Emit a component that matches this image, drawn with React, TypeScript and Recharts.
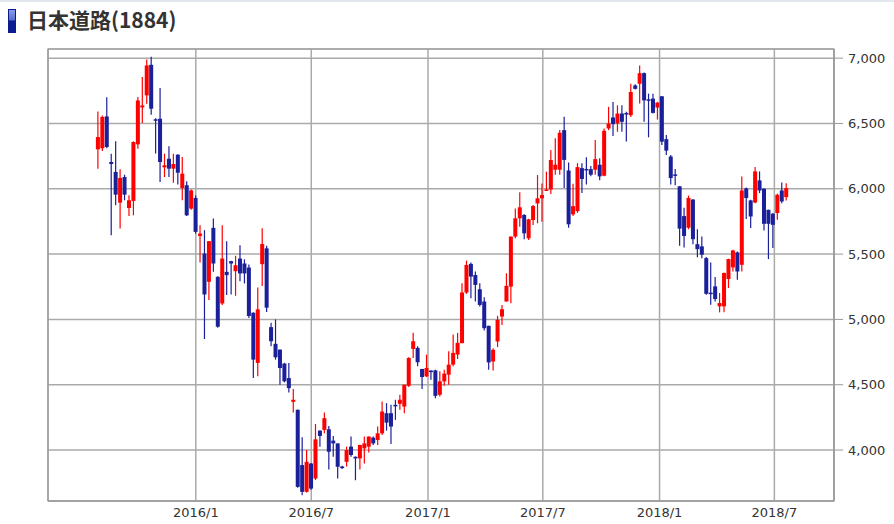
import React from 'react';
import { ComposedChart, Bar, XAxis, YAxis, CartesianGrid, ReferenceArea } from 'recharts';

// weekly bars, first week ending 2015/7/31
const firstWeek = '2015-07-31';

const openPrices = [
  6302, 6310, 6554, 6205, 6129, 5894, 6090, 5853, 5907, 6340, 6623, 6715, 6949, 6532, 6536, 6164,
  6230, 6154, 6261, 6006, 6027, 5848, 5930, 5639, 5504, 5288, 5701, 5326, 5122, 5364, 5446, 5369,
  5466, 5428, 5397, 5051, 4667, 5423, 5544, 4941, 4813, 4769, 4662, 4551, 4369, 4308, 3885, 3680,
  3897, 3782, 4149, 4154, 4159, 4072, 4051, 3874, 3910, 4026, 3949, 3936, 4013, 4026, 4095, 4077,
  4128, 4282, 4282, 4346, 4354, 4333, 4492, 4774, 4782, 4621, 4564, 4608, 4610, 4423, 4526, 4577,
  4654, 4731, 4818, 5206, 5425, 5340, 5231, 5137, 4951, 4678, 4831, 5022, 5137, 5251, 5634, 5774,
  5799, 5621, 5761, 5888, 5927, 5985, 5995, 6146, 6146, 6449, 6140, 5804, 5829, 6158, 6152, 6150,
  6146, 6184, 6100, 6462, 6546, 6500, 6576, 6580, 6563, 6791, 6804, 6885, 6685, 6690, 6622, 6708,
  6380, 6247, 6110, 6019, 5791, 5702, 5918, 5576, 5559, 5469, 5205, 5253, 5100, 5100, 5309, 5398,
  5513, 5418, 6003, 5911, 5895, 6064, 6000, 5839, 5809, 5814, 5987, 5936,
];
const highPrices = [
  6592, 6560, 6700, 6269, 6363, 6149, 6108, 5950, 6363, 6702, 6855, 6990, 7010, 6540, 6771, 6269,
  6325, 6269, 6265, 6243, 6057, 5995, 5950, 5721, 5683, 5600, 5772, 5330, 5721, 5599, 5450, 5487,
  5568, 5460, 5420, 5055, 5244, 5697, 5564, 4974, 5000, 4770, 4667, 4667, 4467, 4310, 4098, 4000,
  3900, 4200, 4150, 4287, 4185, 4108, 4051, 3880, 4026, 4103, 3950, 4040, 4103, 4105, 4103, 4180,
  4372, 4359, 4346, 4385, 4423, 4500, 4710, 4897, 4795, 4621, 4731, 4610, 4615, 4603, 4615, 4756,
  4885, 4897, 5277, 5450, 5435, 5366, 5277, 5170, 4951, 4780, 5027, 5111, 5353, 5634, 5850, 5973,
  5807, 5770, 5876, 6105, 6041, 6131, 6296, 6386, 6449, 6551, 6201, 6039, 6196, 6196, 6242, 6175,
  6373, 6234, 6462, 6627, 6665, 6639, 6639, 6589, 6804, 6800, 6943, 6890, 6728, 6728, 6665, 6710,
  6411, 6259, 6152, 6020, 5855, 5948, 5920, 5690, 5635, 5477, 5436, 5324, 5202, 5360, 5465, 5533,
  5520, 6094, 6010, 5916, 6166, 6133, 6005, 5840, 5814, 5962, 6049, 6043,
];
const lowPrices = [
  6154, 6290, 6310, 5644, 5874, 5695, 5912, 5792, 5797, 6307, 6503, 6651, 6567, 6270, 6052, 6090,
  6090, 6047, 6032, 5912, 5792, 5840, 5657, 5436, 4850, 5148, 5364, 4936, 5110, 5186, 5191, 5181,
  5293, 5275, 5010, 4551, 4564, 5256, 5056, 4795, 4692, 4500, 4518, 4441, 4287, 3712, 3654, 3675,
  3697, 3770, 4026, 4128, 3851, 3949, 3782, 3855, 3874, 3949, 3769, 3851, 3897, 3982, 4039, 4039,
  4115, 4149, 4046, 4231, 4308, 4282, 4482, 4705, 4641, 4467, 4559, 4539, 4397, 4410, 4492, 4500,
  4641, 4697, 4818, 5195, 5162, 5137, 5098, 4915, 4614, 4609, 4788, 4958, 5137, 5124, 5621, 5710,
  5613, 5608, 5723, 5736, 5748, 5983, 5960, 6108, 6108, 6006, 5702, 5791, 5816, 5968, 6032, 6095,
  6108, 6065, 6095, 6449, 6404, 6437, 6437, 6361, 6550, 6760, 6652, 6513, 6394, 6576, 6530, 6335,
  6259, 6032, 6027, 5563, 5550, 5690, 5576, 5475, 5469, 5189, 5112, 5138, 5054, 5054, 5240, 5367,
  5304, 5367, 5768, 5699, 5890, 5967, 5681, 5462, 5546, 5763, 5890, 5911,
];
const closePrices = [
  6396, 6550, 6320, 6190, 5955, 6083, 5955, 5912, 6358, 6676, 6638, 6944, 6613, 6525, 6205, 6180,
  6154, 6190, 6123, 6116, 5797, 5988, 5670, 5657, 5191, 5599, 5428, 4944, 5466, 5339, 5428, 5415,
  5352, 5352, 5026, 4692, 5077, 5577, 5090, 4833, 4710, 4628, 4526, 4474, 4385, 3718, 3680, 3910,
  3705, 4082, 4108, 4244, 3987, 4051, 3872, 3862, 4000, 3962, 3936, 4039, 4051, 4103, 4051, 4128,
  4295, 4210, 4180, 4340, 4385, 4500, 4705, 4833, 4672, 4559, 4628, 4600, 4415, 4526, 4585, 4654,
  4744, 4821, 5206, 5417, 5328, 5264, 5111, 4933, 4671, 4767, 4997, 5078, 5257, 5634, 5774, 5858,
  5659, 5766, 5868, 5927, 5952, 5995, 6220, 6184, 6429, 6221, 5728, 5867, 6166, 6075, 6145, 6108,
  6227, 6095, 6444, 6500, 6495, 6576, 6513, 6570, 6741, 6765, 6885, 6677, 6680, 6581, 6660, 6361,
  6292, 6082, 6105, 5695, 5639, 5930, 5614, 5538, 5495, 5196, 5200, 5156, 5125, 5355, 5462, 5528,
  5367, 5987, 5929, 5788, 6133, 5987, 5732, 5732, 5724, 5954, 5903, 6005,
];

const tickDates = ['2016-01-01', '2016-07-01', '2017-01-01', '2017-07-01', '2018-01-01', '2018-07-01'];
const tickLabels = ['2016/1', '2016/7', '2017/1', '2017/7', '2018/1', '2018/7'];
const priceTicks = [4000, 4500, 5000, 5500, 6000, 6500, 7000];

const DAY = 86400000;
const t0 = Date.parse(firstWeek);
const data = openPrices.map((open, i) => ({
  t: t0 + i * 7 * DAY,
  open,
  high: highPrices[i],
  low: lowPrices[i],
  close: closePrices[i],
}));

const tickTimes = tickDates.map((d) => Date.parse(d));
const xDomain = [Date.parse('2015-05-13'), Date.parse('2018-10-03')];
const yDomain = [3610, 7070];

const UP = '#ff0000';
const DOWN = '#1a1f9a';

const Candle = (props: any) => {
  const { x, y, width, height, payload } = props;
  const { open, high, low, close } = payload;
  const color = close >= open ? UP : DOWN;
  const top = Math.min(y, y + height);
  const h = Math.abs(height);
  const k = high === low ? 0 : h / (high - low);
  const yOpen = top + (high - open) * k;
  const yClose = top + (high - close) * k;
  const bodyTop = Math.min(yOpen, yClose);
  const bodyH = Math.max(Math.abs(yOpen - yClose), 1.5);
  const cx = x + width / 2;
  return (
    <g>
      <line x1={cx} x2={cx} y1={top} y2={top + h} stroke={color} strokeWidth={1.2} />
      <rect x={cx - 2} y={bodyTop} width={4} height={bodyH} fill={color} />
    </g>
  );
};

export default function App() {
  return (
    <div style={{ position: 'absolute', left: 0, top: 0, width: 894, height: 524, background: '#fff' }}>
      <div style={{ position: 'absolute', left: 0, top: 0, width: 894, height: 2, background: '#e3e6ee' }} />
      <div
        style={{
          position: 'absolute',
          left: 8,
          top: 9,
          width: 6,
          height: 22,
          border: '1px solid #0b1a8c',
          background: 'linear-gradient(#8a9ce6 0%, #5b6ed0 45%, #0c1c92 50%, #0c1c92 100%)',
        }}
      />
      <div
        style={{
          position: 'absolute',
          left: 27,
          top: 6,
          fontFamily: '"Noto Sans CJK JP", sans-serif',
          fontWeight: 700,
          fontSize: 21,
          lineHeight: '26px',
          color: '#333',
          whiteSpace: 'nowrap',
        }}
      >
        日本道路(1884)
      </div>
      <div style={{ position: 'absolute', left: 0, top: 0 }}>
        <ComposedChart
          width={894}
          height={524}
          data={data}
          margin={{ top: 49, right: 0, bottom: 0, left: 48 }}
          style={{ fontFamily: '"DejaVu Sans", sans-serif' }}
        >
          <CartesianGrid stroke="#aaaaaa" strokeWidth={1.5} />
          <XAxis
            dataKey="t"
            type="number"
            domain={xDomain}
            ticks={tickTimes}
            interval={0}
            tickFormatter={(v: number) => tickLabels[tickTimes.indexOf(v)]}
            tickLine={false}
            axisLine={{ stroke: '#999999' }}
            tickSize={0}
            tickMargin={7}
            height={23}
            tick={{ fill: '#333', fontSize: 13 }}
          />
          <YAxis
            orientation="right"
            domain={yDomain}
            ticks={priceTicks}
            interval={0}
            width={60}
            tickFormatter={(v: number) => v.toLocaleString('en-US')}
            tickSize={9}
            tickMargin={5}
            tickLine={{ stroke: '#999999' }}
            axisLine={{ stroke: '#999999' }}
            tick={{ fill: '#333', fontSize: 13 }}
          />
          <ReferenceArea
            x1={xDomain[0]}
            x2={xDomain[1]}
            y1={yDomain[0]}
            y2={yDomain[1]}
            fill="none"
            stroke="#999999"
            strokeWidth={1.2}
          />
          <Bar
            dataKey={(d: any) => [d.low, d.high]}
            barSize={4}
            shape={Candle}
            isAnimationActive={false}
          />
        </ComposedChart>
      </div>
    </div>
  );
}
